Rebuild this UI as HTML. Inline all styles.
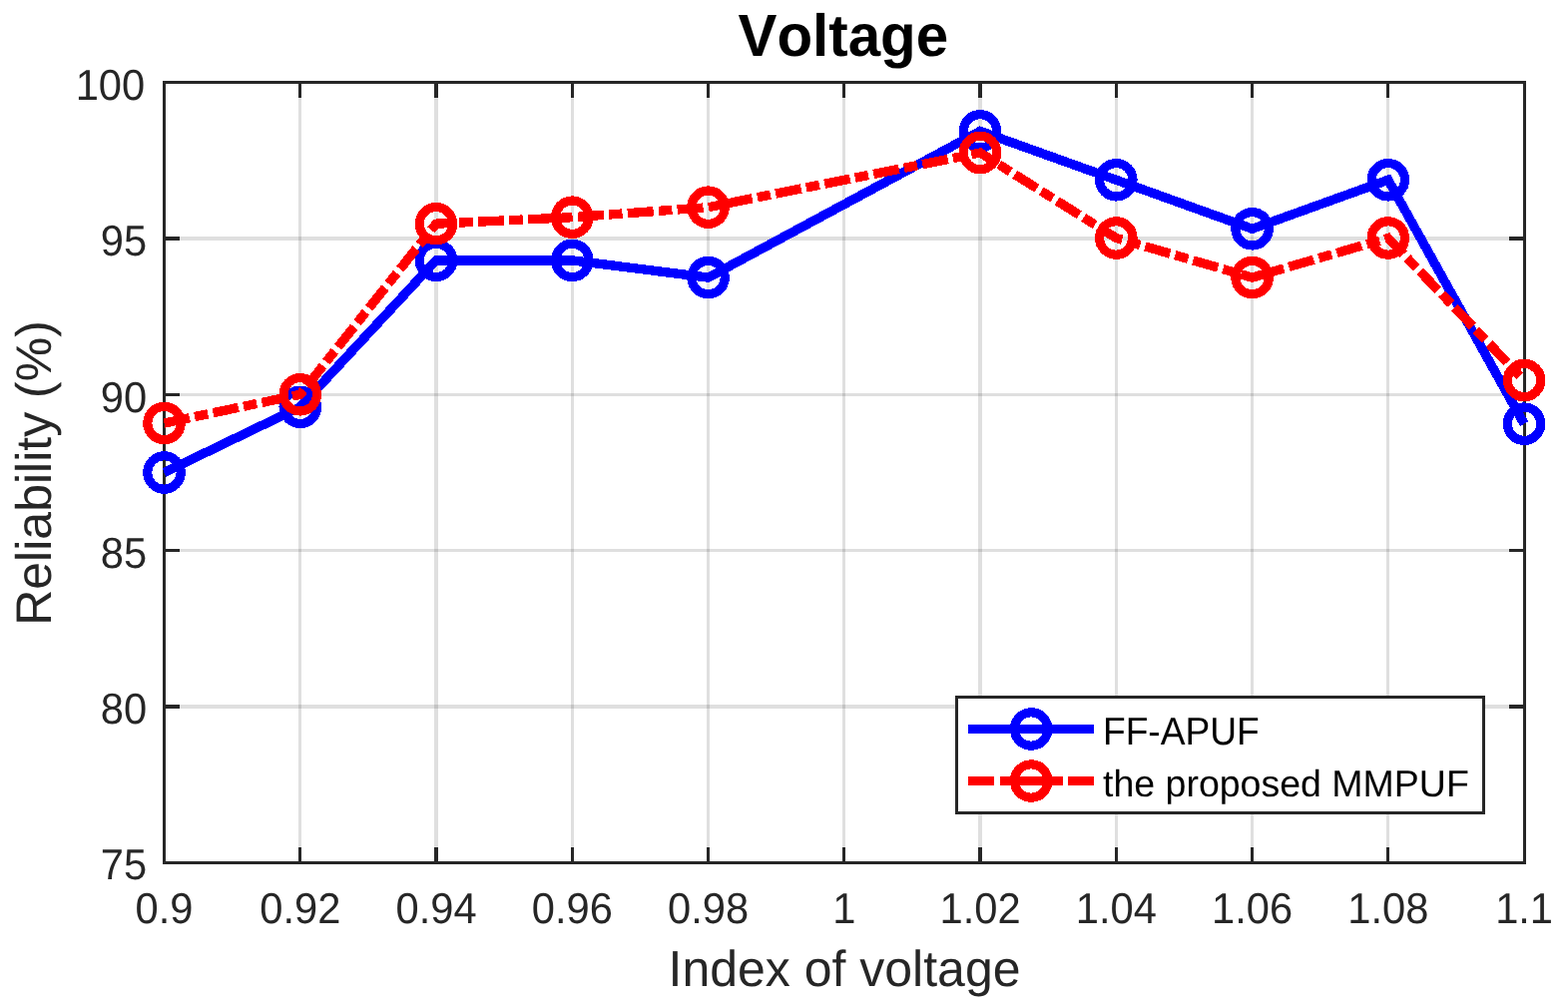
<!DOCTYPE html>
<html lang="en"><head><meta charset="utf-8"><title>Voltage</title>
<style>
html,body{margin:0;padding:0;background:#fff;}
body{width:1571px;height:1009px;overflow:hidden;}
svg{display:block;}
text{font-family:"Liberation Sans",sans-serif;font-kerning:none;text-rendering:geometricPrecision;}
.tk{font-size:41.67px;fill:#262626;}
.lb{font-size:50px;fill:#262626;}
.ti{font-size:58.33px;font-weight:bold;fill:#000;}
.lg{font-size:37.5px;fill:#000;}
</style></head><body>
<svg width="1571" height="1009" viewBox="0 0 1571 1009" role="img" aria-label="Voltage: reliability versus index of voltage">
<rect x="0" y="0" width="1571" height="1009" fill="#fff"/>
<g fill="#262626" fill-opacity="0.15" shape-rendering="crispEdges">
<rect x="299" y="83" width="3" height="781"/>
<rect x="435" y="83" width="4" height="781"/>
<rect x="572" y="83" width="3" height="781"/>
<rect x="708" y="83" width="3" height="781"/>
<rect x="844" y="83" width="3" height="781"/>
<rect x="980" y="83" width="4" height="781"/>
<rect x="1117" y="83" width="3" height="781"/>
<rect x="1253" y="83" width="3" height="781"/>
<rect x="1389" y="83" width="3" height="781"/>
<rect x="164" y="706" width="1363" height="4"/>
<rect x="164" y="550" width="1363" height="3"/>
<rect x="164" y="394" width="1363" height="3"/>
<rect x="164" y="237" width="1363" height="4"/>
</g>
<g fill="#262626" shape-rendering="crispEdges">
<rect x="299" y="849" width="3" height="15"/>
<rect x="299" y="83" width="3" height="15"/>
<rect x="435" y="849" width="4" height="15"/>
<rect x="435" y="83" width="4" height="15"/>
<rect x="572" y="849" width="3" height="15"/>
<rect x="572" y="83" width="3" height="15"/>
<rect x="708" y="849" width="3" height="15"/>
<rect x="708" y="83" width="3" height="15"/>
<rect x="844" y="849" width="3" height="15"/>
<rect x="844" y="83" width="3" height="15"/>
<rect x="980" y="849" width="4" height="15"/>
<rect x="980" y="83" width="4" height="15"/>
<rect x="1117" y="849" width="3" height="15"/>
<rect x="1117" y="83" width="3" height="15"/>
<rect x="1253" y="849" width="3" height="15"/>
<rect x="1253" y="83" width="3" height="15"/>
<rect x="1389" y="849" width="3" height="15"/>
<rect x="1389" y="83" width="3" height="15"/>
<rect x="164" y="706" width="16" height="4"/>
<rect x="1512" y="706" width="15" height="4"/>
<rect x="164" y="550" width="16" height="3"/>
<rect x="1512" y="550" width="15" height="3"/>
<rect x="164" y="394" width="16" height="3"/>
<rect x="1512" y="394" width="15" height="3"/>
<rect x="164" y="237" width="16" height="4"/>
<rect x="1512" y="237" width="15" height="4"/>
<rect x="163" y="81" width="3" height="785"/>
<rect x="1526" y="81" width="3" height="785"/>
<rect x="163" y="81" width="1366" height="3"/>
<rect x="163" y="863" width="1366" height="3"/>
</g>
<g class="tk" text-anchor="middle">
<text transform="translate(164.50,924.8) scale(1,1.040)">0.9</text>
<text transform="translate(300.76,924.8) scale(1,1.040)">0.92</text>
<text transform="translate(437.02,924.8) scale(1,1.040)">0.94</text>
<text transform="translate(573.27,924.8) scale(1,1.040)">0.96</text>
<text transform="translate(709.53,924.8) scale(1,1.040)">0.98</text>
<text transform="translate(845.79,924.8) scale(1,1.040)">1</text>
<text transform="translate(982.05,924.8) scale(1,1.040)">1.02</text>
<text transform="translate(1118.31,924.8) scale(1,1.040)">1.04</text>
<text transform="translate(1254.56,924.8) scale(1,1.040)">1.06</text>
<text transform="translate(1390.82,924.8) scale(1,1.040)">1.08</text>
<text transform="translate(1527.08,924.8) scale(1,1.040)">1.1</text>
</g>
<g class="tk" text-anchor="end">
<text transform="translate(147.2,880.75) scale(1,1.040)">75</text>
<text transform="translate(147.2,724.75) scale(1,1.040)">80</text>
<text transform="translate(147.2,568.75) scale(1,1.040)">85</text>
<text transform="translate(147.2,412.75) scale(1,1.040)">90</text>
<text transform="translate(147.2,255.75) scale(1,1.040)">95</text>
<text transform="translate(145.2,99.75) scale(1,1.040)">100</text>
</g>
<text class="ti" text-anchor="middle" transform="translate(844.8,56.3) scale(1,1.02)">Voltage</text>
<text class="lb" text-anchor="middle" transform="translate(846.0,987.9) scale(1,1.015)">Index of voltage</text>
<text class="lb" text-anchor="middle" transform="translate(50.8,474.0) rotate(-90)">Reliability (%)</text>
<g fill="none" stroke="#0000ff" shape-rendering="crispEdges">
<polyline points="164.50,473.50 300.76,407.80 437.02,260.90 573.27,260.90 709.53,278.10 982.05,131.40 1118.31,180.30 1254.56,229.30 1390.82,180.30 1527.08,424.70" stroke-width="9.375" stroke-linejoin="miter" stroke-linecap="butt"/>
<circle cx="164.50" cy="473.50" r="16.70" stroke-width="9.20"/>
<circle cx="300.76" cy="407.80" r="16.70" stroke-width="9.20"/>
<circle cx="437.02" cy="260.90" r="16.70" stroke-width="9.20"/>
<circle cx="573.27" cy="260.90" r="16.70" stroke-width="9.20"/>
<circle cx="709.53" cy="278.10" r="16.70" stroke-width="9.20"/>
<circle cx="982.05" cy="131.40" r="16.70" stroke-width="9.20"/>
<circle cx="1118.31" cy="180.30" r="16.70" stroke-width="9.20"/>
<circle cx="1254.56" cy="229.30" r="16.70" stroke-width="9.20"/>
<circle cx="1390.82" cy="180.30" r="16.70" stroke-width="9.20"/>
<circle cx="1527.08" cy="424.70" r="16.70" stroke-width="9.20"/>
</g>
<g fill="none" stroke="#ff0000" shape-rendering="crispEdges">
<polyline points="164.50,424.00 300.76,395.30 437.02,224.20 573.27,217.70 709.53,207.70 982.05,153.00 1118.31,238.50 1254.56,278.10 1390.82,238.50 1526.39,380.28" stroke-width="9.375" stroke-linejoin="miter" stroke-linecap="butt" stroke-dasharray="26 5.25 13.5 5.25"/>
<circle cx="164.50" cy="424.00" r="16.70" stroke-width="9.20"/>
<circle cx="300.76" cy="395.30" r="16.70" stroke-width="9.20"/>
<circle cx="437.02" cy="224.20" r="16.70" stroke-width="9.20"/>
<circle cx="573.27" cy="217.70" r="16.70" stroke-width="9.20"/>
<circle cx="709.53" cy="207.70" r="16.70" stroke-width="9.20"/>
<circle cx="982.05" cy="153.00" r="16.70" stroke-width="9.20"/>
<circle cx="1118.31" cy="238.50" r="16.70" stroke-width="9.20"/>
<circle cx="1254.56" cy="278.10" r="16.70" stroke-width="9.20"/>
<circle cx="1390.82" cy="238.50" r="16.70" stroke-width="9.20"/>
<circle cx="1527.08" cy="381.00" r="16.70" stroke-width="9.20"/>
</g>
<g shape-rendering="crispEdges">
<rect x="957" y="697" width="531" height="119" fill="#262626"/>
<rect x="960" y="700" width="525" height="113" fill="#fff"/>
</g>
<g fill="none" shape-rendering="crispEdges">
<line x1="970" y1="730.5" x2="1096" y2="730.5" stroke="#0000ff" stroke-width="9.375"/>
<circle cx="1033.2" cy="730.5" r="16.70" stroke="#0000ff" stroke-width="9.20"/>
<line x1="970" y1="782.5" x2="1096" y2="782.5" stroke="#ff0000" stroke-width="9.375" stroke-dasharray="26 6 13 5"/>
<circle cx="1033.2" cy="782.5" r="16.70" stroke="#ff0000" stroke-width="9.20"/>
</g>
<text class="lg" transform="translate(1105,745.9) scale(0.99,1.042)">FF-APUF</text>
<text class="lg" x="1105" y="798">the proposed MMPUF</text>
</svg>
</body></html>
